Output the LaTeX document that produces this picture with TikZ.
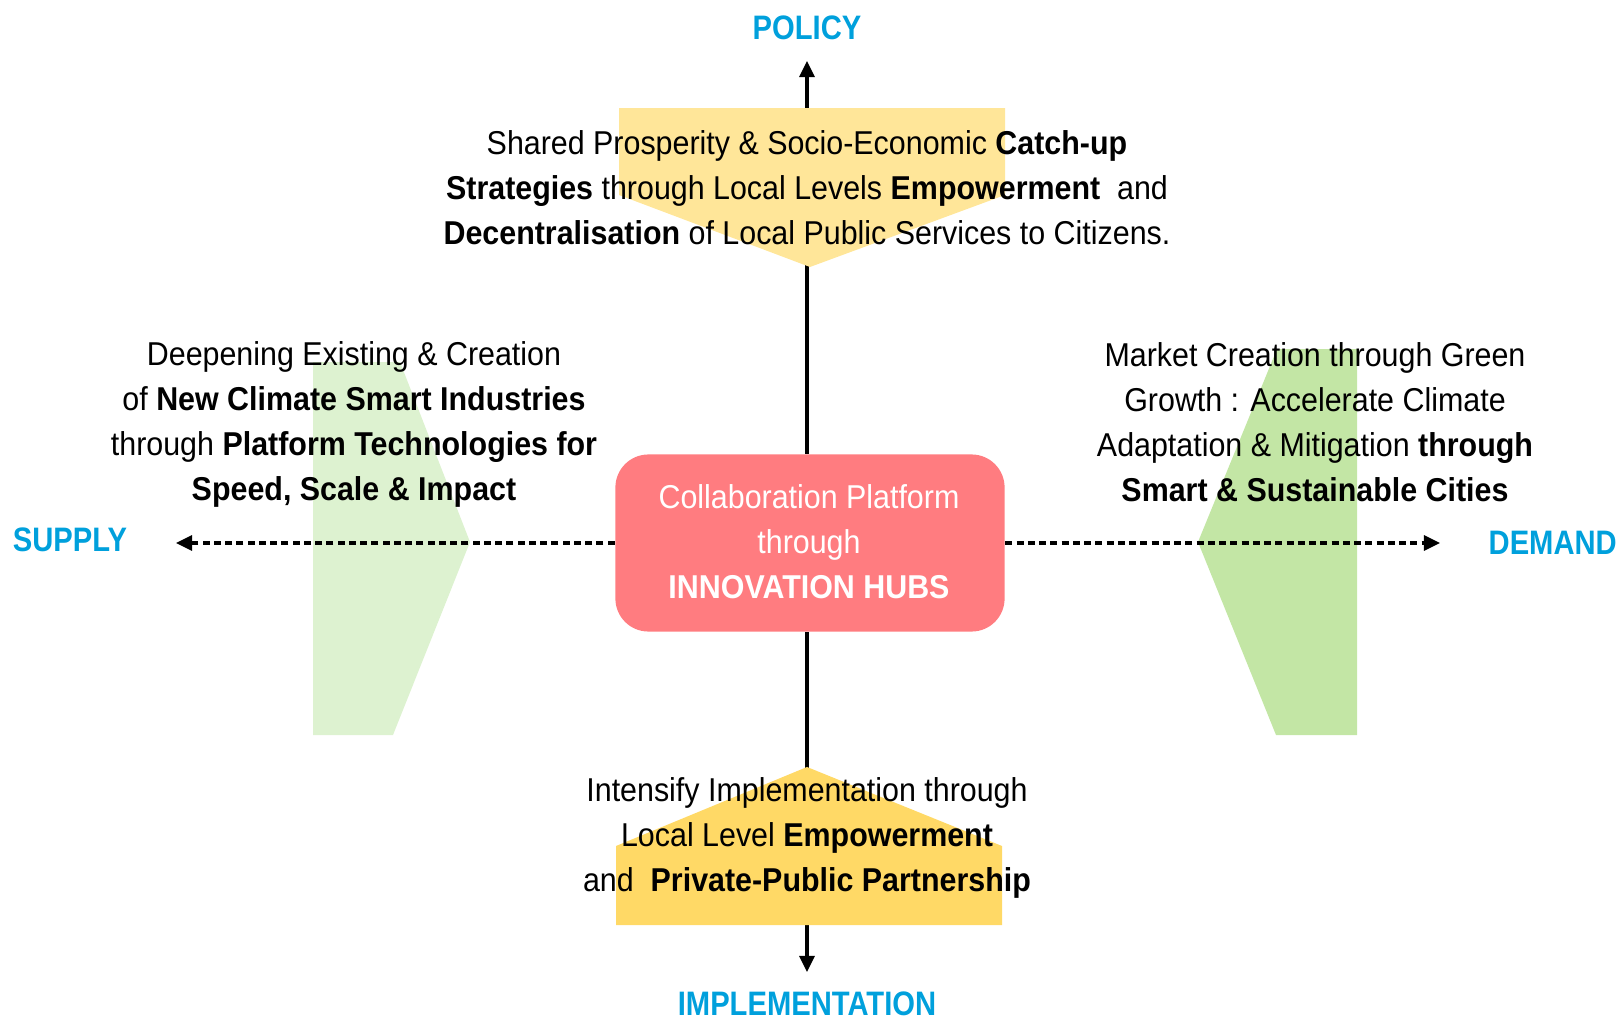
\documentclass[tikz,border=0pt]{standalone}
\usepackage{fontspec}
\setmainfont{Liberation Sans}[FakeStretch=0.92]
\newfontfamily\labelfamily{Liberation Sans}[FakeStretch=0.86]
\usepackage{tikz}
\usetikzlibrary{arrows.meta}

\definecolor{axisblue}{RGB}{0,160,220}
\definecolor{hubred}{RGB}{255,124,128}
\definecolor{topyellow}{RGB}{255,230,153}
\definecolor{lowyellow}{RGB}{255,217,102}
\definecolor{palegreen}{RGB}{221,242,208}
\definecolor{deepgreen}{RGB}{195,230,165}

\begin{document}
\begin{tikzpicture}[x = 0.01cm, y = -0.01cm,
  axisline/.style = {line width = 0.9pt, -{Triangle[length = 1.6mm, width = 1.5mm]}},
  flow/.style = {axisline, dash pattern = on 2pt off 1.2pt},
  axislabel/.style = {font = \labelfamily\fontsize{9.65}{11}\selectfont\bfseries, text = axisblue, inner sep = 0pt},
  txt/.style = {align = center, font = \fontsize{9.4}{12.8}\selectfont, inner sep = 0pt}]
\useasboundingbox (0, 0) rectangle (1620, 1018);
\node (hub) at (810, 543) [rounded corners = 0.33cm, fill = hubred, minimum width = 3.89cm, minimum height = 1.77cm] {};
\coordinate (policytip) at (807, 61);
\coordinate (impltip) at (807, 972);
\coordinate (supplytip) at (176, 543);
\coordinate (demandtip) at (1440, 543);
\draw[axisline] (hub.north -| policytip) -- (policytip);
\draw[axisline] (hub.south -| impltip) -- (impltip);
\fill[topyellow] (619, 108) -- (1005, 108) -- (1005, 195) -- (810, 267) -- (619, 195) -- cycle;
\fill[lowyellow] (807, 767) -- (1002, 846) -- (1002, 925) -- (616, 925) -- (616, 846) -- cycle;
\fill[palegreen] (313, 362) -- (400, 362) -- (470, 542) -- (393, 735) -- (313, 735) -- cycle;
\fill[deepgreen] (1357, 349) -- (1277, 349) -- (1198, 542) -- (1276, 735) -- (1357, 735) -- cycle;
\draw[flow] (hub.west) -- (supplytip);
\draw[flow] (hub.east) -- (demandtip);
\node at (809, 542) [txt, text = white] {Collaboration Platform\\through\\\textbf{INNOVATION HUBS}};
\node (policy) at (807, 28) [axislabel] {POLICY};
\node (implementation) at (807, 1004) [axislabel] {IMPLEMENTATION};
\node (supply) at (70, 540) [axislabel] {SUPPLY};
\node (demand) at (1488, 543) [axislabel, anchor = west] {DEMAND};
\node (policytext) at (807, 188) [txt] {Shared Prosperity \& Socio-Economic \textbf{Catch-up}\\
  \textbf{Strategies} through Local Levels \textbf{Empowerment}~ and\\
  \textbf{Decentralisation} of Local Public Services to Citizens.};
\node (supplytext) at (354, 424) [txt] {Deepening Existing \& Creation\\
  of \textbf{New Climate Smart Industries}\\
  through \textbf{Platform Technologies for}\\
  \textbf{Speed, Scale \& Impact}};
\node (demandtext) at (1315, 422) [txt] {Market Creation through Green\\
  Growth : Accelerate Climate\\
  Adaptation \& Mitigation \textbf{through}\\
  \textbf{Smart \& Sustainable Cities}};
\node (impltext) at (807, 838) [txt] {Intensify Implementation through\\
  Local Level \textbf{Empowerment}\\
  and~ \textbf{Private-Public Partnership}};
\end{tikzpicture}
\end{document}
